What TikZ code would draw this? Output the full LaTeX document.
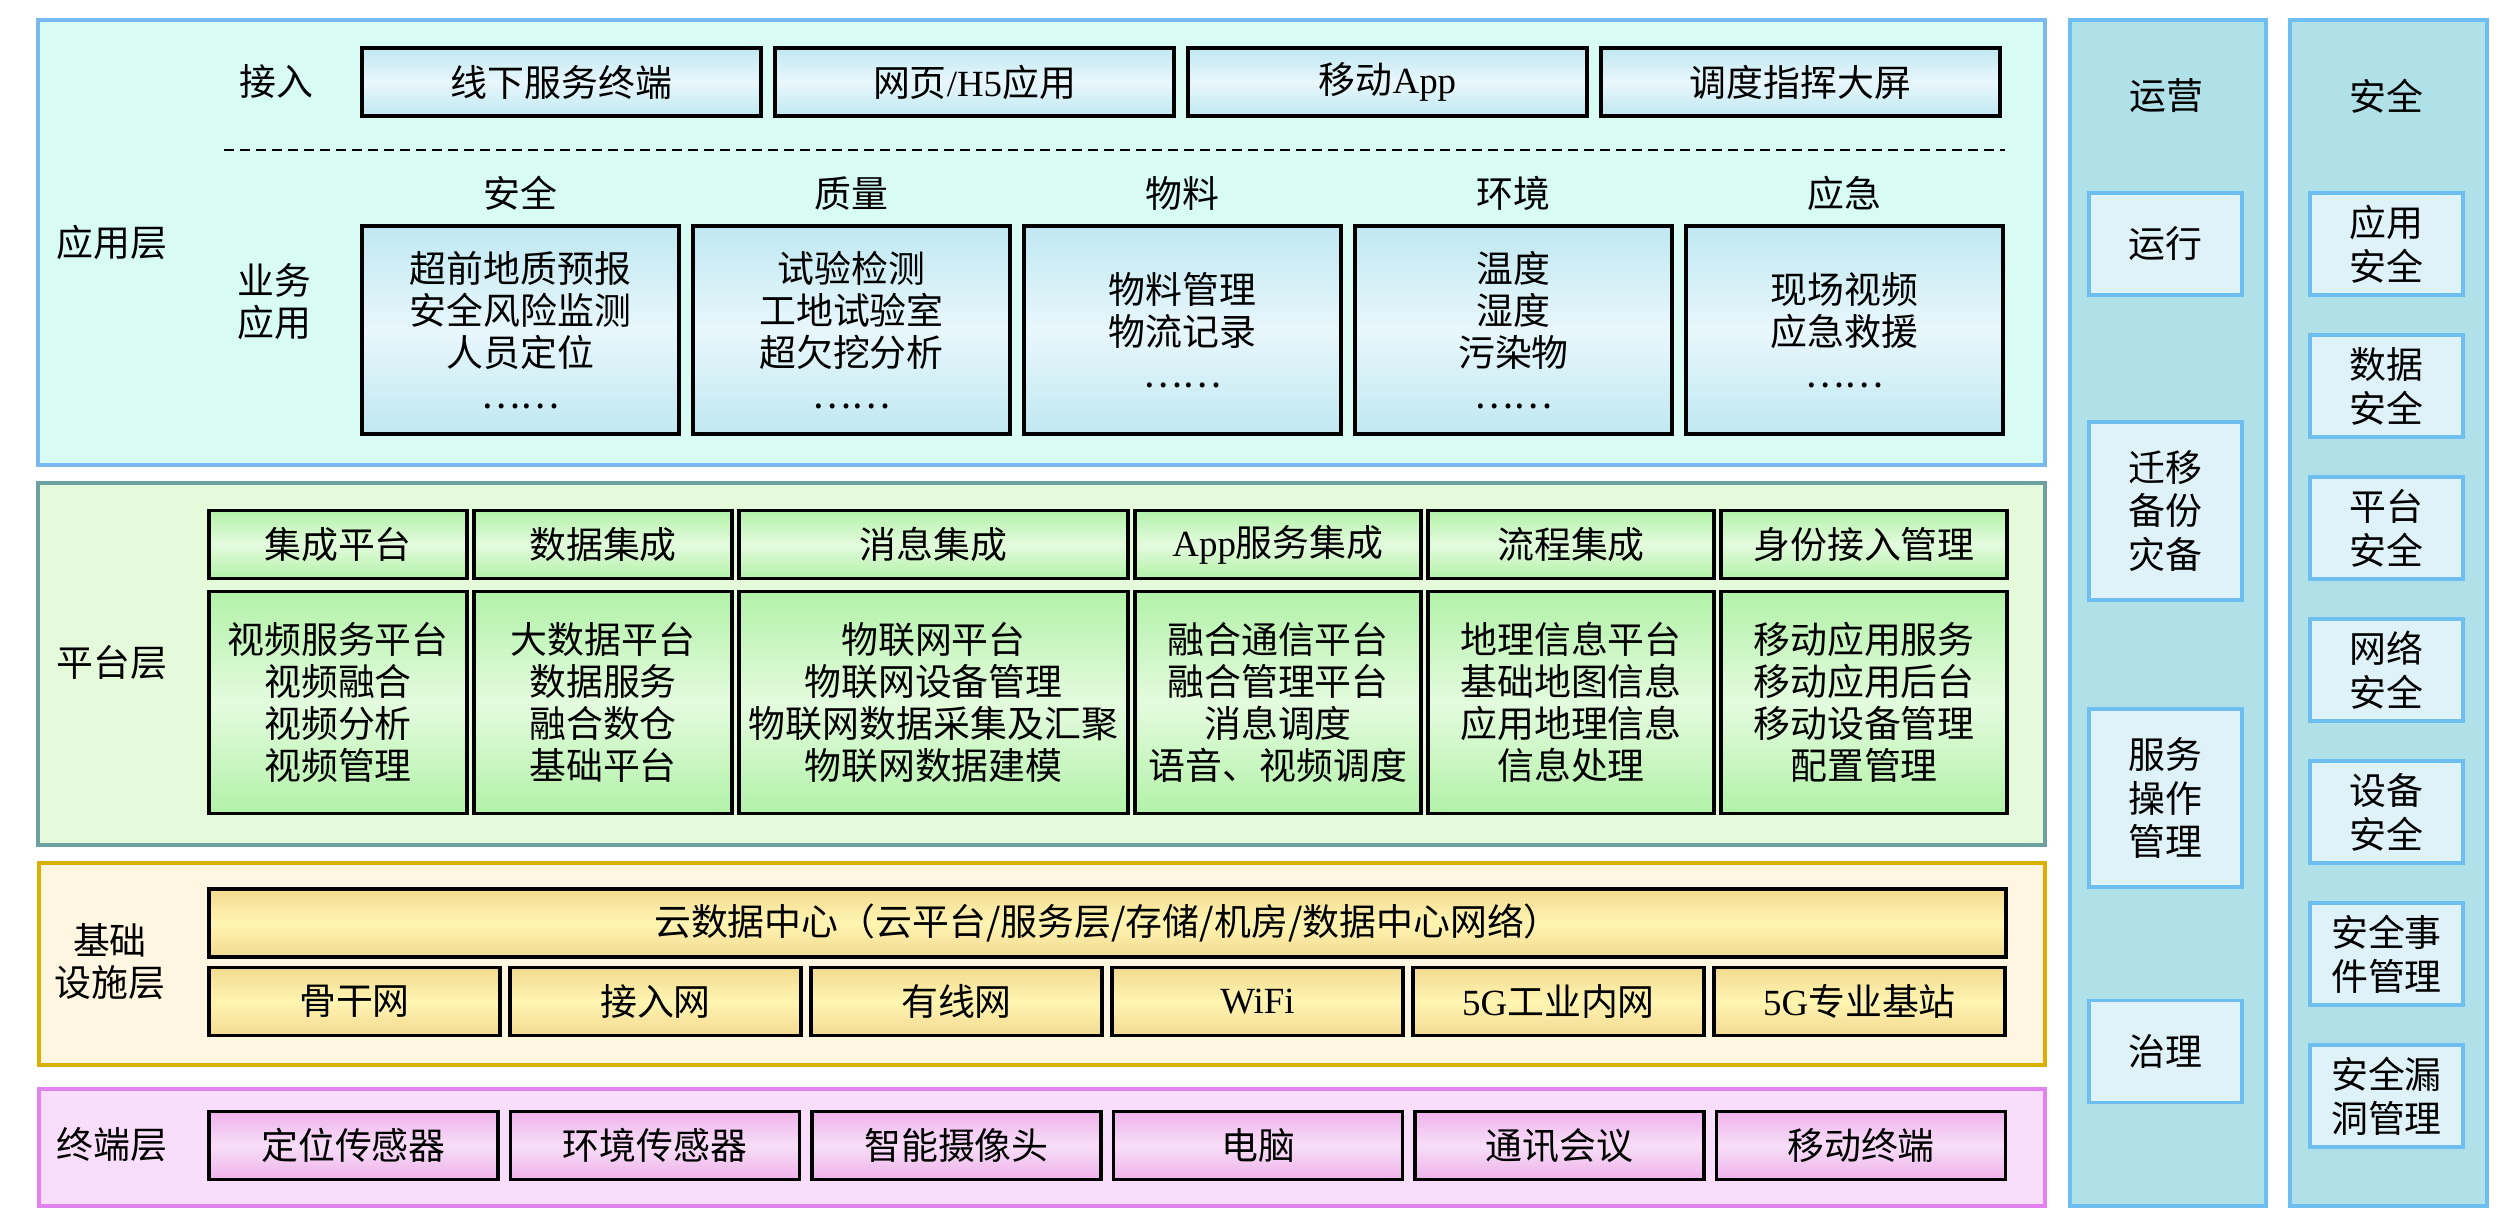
\documentclass[tikz,border=0pt]{standalone}
\usepackage{fontspec}
\setmainfont{Noto Sans CJK SC}
\newfontfamily\lat{Liberation Serif}
\usetikzlibrary{positioning}
\definecolor{appfill}{RGB}{216, 252, 244}
\definecolor{appline}{RGB}{122, 184, 240}
\definecolor{appshA}{RGB}{192, 232, 242}
\definecolor{appshB}{RGB}{232, 247, 251}
\definecolor{platfill}{RGB}{228, 250, 218}
\definecolor{platline}{RGB}{110, 160, 160}
\definecolor{platshA}{RGB}{178, 242, 168}
\definecolor{platshB}{RGB}{228, 251, 222}
\definecolor{infrafill}{RGB}{254, 246, 224}
\definecolor{infraline}{RGB}{218, 176, 0}
\definecolor{infrashA}{RGB}{242, 218, 144}
\definecolor{infrashB}{RGB}{255, 245, 178}
\definecolor{termfill}{RGB}{248, 222, 250}
\definecolor{termline}{RGB}{226, 130, 240}
\definecolor{termshA}{RGB}{238, 178, 234}
\definecolor{termshB}{RGB}{248, 222, 248}
\definecolor{colfill}{RGB}{176, 224, 232}
\definecolor{colline}{RGB}{110, 190, 240}
\definecolor{subfill}{RGB}{222, 242, 248}
\newcommand{\boxfont}{\fontsize{10.5pt}{12pt}\selectfont}

\begin{document}
\begin{tikzpicture}[x=1mm, y=-1mm,
        layer/.style={draw, line width=1.1pt, anchor=north west, inner sep=0pt},
        laytext/.style={inner sep=0pt, font=\boxfont, align=center},
        tier/.style={draw=black, line width=0.9pt, inner sep=0pt, outer sep=0pt, font=\boxfont, align=center, minimum height=6.8mm},
        appbox/.style={tier, top color=appshA, bottom color=appshA, middle color=appshB},
        platbox/.style={tier, top color=platshA, bottom color=platshA, middle color=platshB},
        infrabox/.style={tier, top color=infrashA, bottom color=infrashA, middle color=infrashB},
        termbox/.style={tier, top color=termshA, bottom color=termshA, middle color=termshB},
        sidebox/.style={draw=colline, fill=subfill, line width=1pt, inner sep=0pt, outer sep=0pt, minimum width=15.3mm, minimum height=10.2mm, font=\fontsize{10.5pt}{12.5pt}\selectfont, align=center},
        dashline/.style={dashed, dash pattern=on 1mm off 0.6mm, line width=0.8pt}
    ]
        \fill[white] (0,0) rectangle (252,121.6);
        \useasboundingbox (0,0) rectangle (252,121.6);

        % 应用层
        \node[layer, draw=appline, fill=appfill, minimum width=200.7mm, minimum height=44.5mm] (applayer) at (3.6,1.8) {};
        \node[laytext] (applbl) at (11.2,24.2) {应用层};
        \node[laytext] (acclbl) at (27.6,8.2) {接入};
        \node[appbox, minimum width=39.9mm] (acc1) at (56.15,8.2) {线下服务终端};
        \node[appbox, minimum width=39.9mm, right=1.4mm of acc1] (acc2) {网页{\lat /H5}应用};
        \node[appbox, minimum width=39.9mm, right=1.4mm of acc2] (acc3) {移动{\lat App}};
        \node[appbox, minimum width=39.9mm, right=1.4mm of acc3] (acc4) {调度指挥大屏};
        \coordinate (dashL) at (22.4,15);
        \coordinate (dashR) at (200.5,15);
        \draw[dashline] (dashL) -- (dashR);
        \node[laytext] (bizlbl) at (27.4,30.2) {业务\\应用};
        \node[appbox, minimum width=31.7mm, minimum height=20.8mm] (biz1) at (52.05,33) {超前地质预报\\安全风险监测\\人员定位\\……};
        \node[appbox, minimum width=31.7mm, minimum height=20.8mm, right=1.4mm of biz1] (biz2) {试验检测\\工地试验室\\超欠挖分析\\……};
        \node[appbox, minimum width=31.7mm, minimum height=20.8mm, right=1.4mm of biz2] (biz3) {物料管理\\物流记录\\……};
        \node[appbox, minimum width=31.7mm, minimum height=20.8mm, right=1.4mm of biz3] (biz4) {温度\\湿度\\污染物\\……};
        \node[appbox, minimum width=31.7mm, minimum height=20.8mm, right=1.4mm of biz4] (biz5) {现场视频\\应急救援\\……};
        \node[laytext, above=1.5mm of biz1] (cat1) {安全};
        \node[laytext, above=1.5mm of biz2] (cat2) {质量};
        \node[laytext, above=1.5mm of biz3] (cat3) {物料};
        \node[laytext, above=1.5mm of biz4] (cat4) {环境};
        \node[laytext, above=1.5mm of biz5] (cat5) {应急};

        % 平台层
        \node[layer, draw=platline, fill=platfill, minimum width=200.7mm, minimum height=36.2mm] (platlayer) at (3.6,48.1) {};
        \node[laytext] (platlbl) at (11.2,66.3) {平台层};
        \node[platbox, minimum width=25.8mm] (ph1) at (33.8,54.45) {集成平台};
        \node[platbox, minimum width=25.8mm, right=0.7mm of ph1] (ph2) {数据集成};
        \node[platbox, minimum width=38.9mm, right=0.7mm of ph2] (ph3) {消息集成};
        \node[platbox, minimum width=28.6mm, right=0.7mm of ph3] (ph4) {{\lat App}服务集成};
        \node[platbox, minimum width=28.6mm, right=0.7mm of ph4] (ph5) {流程集成};
        \node[platbox, minimum width=28.6mm, right=0.7mm of ph5] (ph6) {身份接入管理};
        \node[platbox, minimum width=25.8mm, minimum height=22.2mm, below=1.3mm of ph1] (pb1) {视频服务平台\\视频融合\\视频分析\\视频管理};
        \node[platbox, minimum width=25.8mm, minimum height=22.2mm, below=1.3mm of ph2] (pb2) {大数据平台\\数据服务\\融合数仓\\基础平台};
        \node[platbox, minimum width=38.9mm, minimum height=22.2mm, below=1.3mm of ph3] (pb3) {物联网平台\\物联网设备管理\\物联网数据采集及汇聚\\物联网数据建模};
        \node[platbox, minimum width=28.6mm, minimum height=22.2mm, below=1.3mm of ph4] (pb4) {融合通信平台\\融合管理平台\\消息调度\\语音、视频调度};
        \node[platbox, minimum width=28.6mm, minimum height=22.2mm, below=1.3mm of ph5] (pb5) {地理信息平台\\基础地图信息\\应用地理信息\\信息处理};
        \node[platbox, minimum width=28.6mm, minimum height=22.2mm, below=1.3mm of ph6] (pb6) {移动应用服务\\移动应用后台\\移动设备管理\\配置管理};

        % 基础设施层
        \node[layer, draw=infraline, fill=infrafill, minimum width=200.6mm, minimum height=20.2mm] (infralayer) at (3.7,86.1) {};
        \node[laytext] (infralbl) at (11.0,96.2) {基础\\设施层};
        \node[infrabox, minimum width=179.7mm] (cloud) at (110.75,92.3) {云数据中心（云平台/服务层/存储/机房/数据中心网络）};
        \node[infrabox, minimum width=29.1mm] (net1) at (35.45,100.15) {骨干网};
        \node[infrabox, minimum width=29.1mm, right=1mm of net1] (net2) {接入网};
        \node[infrabox, minimum width=29.1mm, right=1mm of net2] (net3) {有线网};
        \node[infrabox, minimum width=29.1mm, right=1mm of net3] (net4) {{\lat WiFi}};
        \node[infrabox, minimum width=29.1mm, right=1mm of net4] (net5) {{\lat 5G}工业内网};
        \node[infrabox, minimum width=29.1mm, right=1mm of net5] (net6) {{\lat 5G}专业基站};

        % 终端层
        \node[layer, draw=termline, fill=termfill, minimum width=200.6mm, minimum height=11.7mm] (termlayer) at (3.7,108.7) {};
        \node[laytext] (termlbl) at (11.2,114.5) {终端层};
        \node[termbox, minimum width=28.9mm] (dev1) at (35.35,114.55) {定位传感器};
        \node[termbox, minimum width=28.9mm, right=1.25mm of dev1] (dev2) {环境传感器};
        \node[termbox, minimum width=28.9mm, right=1.25mm of dev2] (dev3) {智能摄像头};
        \node[termbox, minimum width=28.9mm, right=1.25mm of dev3] (dev4) {电脑};
        \node[termbox, minimum width=28.9mm, right=1.25mm of dev4] (dev5) {通讯会议};
        \node[termbox, minimum width=28.9mm, right=1.25mm of dev5] (dev6) {移动终端};

        % 运营
        \node[layer, draw=colline, fill=colfill, minimum width=19.6mm, minimum height=118.6mm] (opscol) at (206.8,1.8) {};
        \node[laytext] (opslbl) at (216.6,9.6) {运营};
        \node[sidebox] (ops1) at (216.55,24.4) {运行};
        \node[sidebox, minimum height=17.8mm] (ops2) at (216.55,51.1) {迁移\\备份\\灾备};
        \node[sidebox, minimum height=17.8mm] (ops3) at (216.55,79.8) {服务\\操作\\管理};
        \node[sidebox] (ops4) at (216.55,105.15) {治理};

        % 安全
        \node[layer, draw=colline, fill=colfill, minimum width=19.7mm, minimum height=118.6mm] (seccol) at (228.8,1.8) {};
        \node[laytext] (seclbl) at (238.65,9.6) {安全};
        \node[sidebox] (sec1) at (238.65,24.4) {应用\\安全};
        \node[sidebox, below=4mm of sec1] (sec2) {数据\\安全};
        \node[sidebox, below=4mm of sec2] (sec3) {平台\\安全};
        \node[sidebox, below=4mm of sec3] (sec4) {网络\\安全};
        \node[sidebox, below=4mm of sec4] (sec5) {设备\\安全};
        \node[sidebox, below=4mm of sec5] (sec6) {安全事\\件管理};
        \node[sidebox, below=4mm of sec6] (sec7) {安全漏\\洞管理};
    \end{tikzpicture}
\end{document}
